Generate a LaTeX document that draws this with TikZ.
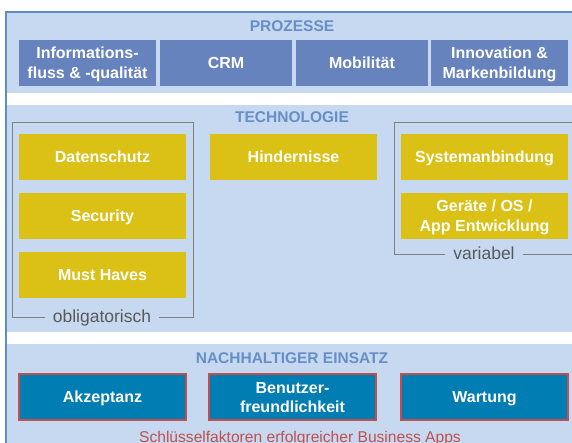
\documentclass[tikz,border=0pt]{standalone}
\usepackage{fontspec}
\setmainfont{Liberation Sans}
\definecolor{panelbg}{RGB}{198,217,240}
\definecolor{titleblue}{RGB}{103,142,199}
\definecolor{procblue}{RGB}{103,131,190}
\definecolor{techyellow}{RGB}{219,192,22}
\definecolor{susteal}{RGB}{0,125,178}
\definecolor{redline}{RGB}{192,80,77}
\definecolor{bracketgray}{RGB}{128,128,128}
\definecolor{labelgray}{RGB}{89,89,89}
\definecolor{frameblue}{RGB}{94,140,200}
\tikzset{
  boxfont/.style={font=\fontsize{16}{19.5}\selectfont\bfseries, text=white, align=center, text height=11.5pt, text depth=0pt, inner sep=0pt},
  twoline/.style={text height=31pt},
  procbox/.style={boxfont, fill=procblue, minimum height=46pt},
  techbox/.style={boxfont, fill=techyellow, minimum width=167pt, minimum height=46pt},
  susbox/.style={boxfont, fill=susteal, draw=redline, line width=2pt, minimum width=167pt, minimum height=46pt},
  paneltitle/.style={font=\fontsize{15.5}{19.5}\selectfont\bfseries, text=titleblue, text height=11pt, text depth=0pt, inner sep=0pt},
  panel/.style={fill=panelbg, draw=none},
  bracketline/.style={draw=bracketgray, line width=1pt},
  bracketlabel/.style={font=\fontsize{17.5}{20}\selectfont, text=labelgray, fill=panelbg, anchor=base, inner xsep=8pt, inner ysep=1pt},
}
\begin{document}
\begin{tikzpicture}[x=1pt, y=-1pt]
\useasboundingbox (0,0) rectangle (572,443);
\clip (0,0) rectangle (572,443);
\fill[white] (0,0) rectangle (572,443);
% panels
\fill[panel] (6,12) rectangle (572,93);
\fill[panel] (6,105) rectangle (572,332);
\fill[panel] (6,344) rectangle (572,450);
% frame
\draw[frameblue, line width=1.3pt] (6,450) -- (6,12) -- (580,12);
% titles
\node[paneltitle] (tprozesse) at (292,26) {PROZESSE};
\node[paneltitle] (ttechnologie) at (292,117.5) {TECHNOLOGIE};
\node[paneltitle] (tnachhaltig) at (292,357.5) {NACHHALTIGER EINSATZ};
% process boxes
\node[procbox, twoline, minimum width=137pt] (info) at (87.5,63) {Informations-\\fluss \& -qualität};
\node[procbox, minimum width=132pt] (crm) at (226,63) {CRM};
\node[procbox, minimum width=132pt] (mobil) at (362,63) {Mobilität};
\node[procbox, twoline, minimum width=137pt] (innov) at (499.5,63) {Innovation \&\\Markenbildung};
% brackets
\draw[bracketline] (12,123) rectangle (193,317);
\node[bracketlabel] (oblig) at (102,322) {obligatorisch};
\draw[bracketline] (394,123) rectangle (590,255);
\node[bracketlabel] (variabel) at (484,259.5) {variabel};
% technology boxes
\node[techbox] (daten) at (102.5,157) {Datenschutz};
\node[techbox] (security) at (102.5,216) {Security};
\node[techbox] (must) at (102.5,275) {Must Haves};
\node[techbox] (hinder) at (293.5,157) {Hindernisse};
\node[techbox] (system) at (484.5,157) {Systemanbindung};
\node[techbox, twoline] (geraete) at (484.5,216) {Geräte / OS /\\App Entwicklung};
% sustainability boxes
\node[susbox] (akzeptanz) at (102.5,397) {Akzeptanz};
\node[susbox, twoline] (benutzer) at (292.5,397) {Benutzer-\\freundlichkeit};
\node[susbox] (wartung) at (484.5,397) {Wartung};
% caption
\node[font=\fontsize{15.6}{18}\selectfont, text=redline, anchor=base, inner sep=0pt] (caption) at (300,442.5) {Schlüsselfaktoren erfolgreicher Business Apps};
\end{tikzpicture}
\end{document}
